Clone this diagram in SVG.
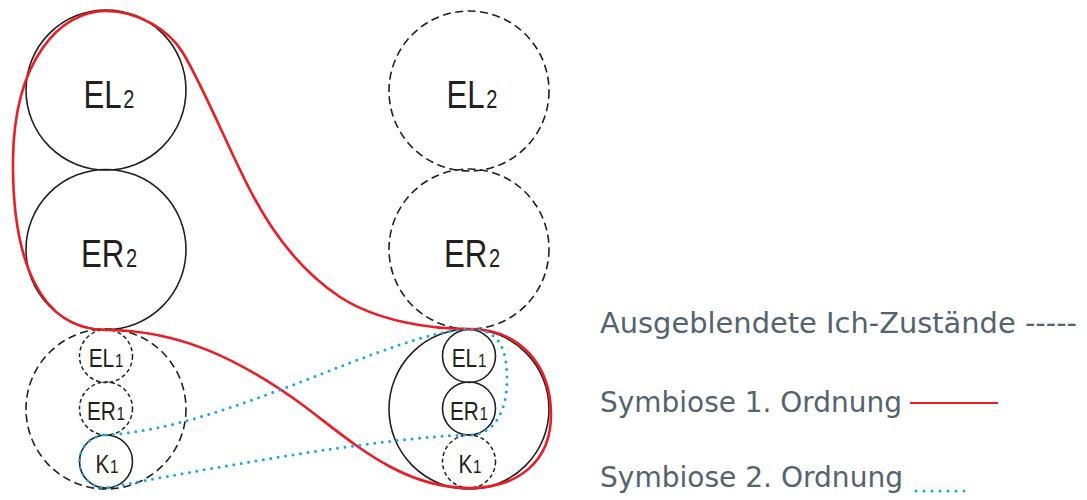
<svg xmlns="http://www.w3.org/2000/svg" width="1087" height="500" viewBox="0 0 1087 500">
<style>
.solid{fill:none;stroke:#231f20;stroke-width:1.6}
.dbig{fill:none;stroke:#231f20;stroke-width:1.6;stroke-dasharray:8 4.5}
.dsmall{fill:none;stroke:#231f20;stroke-width:1.5;stroke-dasharray:4 2.8}
.lbl{font-family:"Liberation Sans",Arial,sans-serif;fill:#231f20;text-anchor:middle}
.big{font-size:39px}
.bigsub{font-size:25px}
.sm{font-size:26px}
.smsub{font-size:19px}
.red{fill:none;stroke:#ec1c24;stroke-width:2.6;stroke-linejoin:round}
.blue{fill:none;stroke:#1ba6e3;stroke-width:3;stroke-linecap:round;stroke-dasharray:0 7.5}
.leg{font-family:"DejaVu Sans",sans-serif;font-size:28px;fill:#54636d}
</style>
<rect width="1087" height="500" fill="#ffffff"/>
<g id="left-EL2"><circle class="solid" cx="106" cy="90" r="80"/><text class="lbl big" transform="translate(109 108) scale(0.8 1)">EL<tspan class="bigsub" dx="2">2</tspan></text></g>
<g id="left-ER2"><circle class="solid" cx="106" cy="249.5" r="80"/><text class="lbl big" transform="translate(109 267) scale(0.8 1)">ER<tspan class="bigsub" dx="2">2</tspan></text></g>
<g id="left-I1"><circle class="dbig" cx="106" cy="409" r="80"/></g>
<g id="left-EL1"><circle class="dsmall" cx="106" cy="356" r="26.5"/><text class="lbl sm" transform="translate(106 367) scale(0.8 1)">EL<tspan class="smsub" dx="1">1</tspan></text></g>
<g id="left-ER1"><circle class="dsmall" cx="106" cy="408.5" r="26.5"/><text class="lbl sm" transform="translate(106 420) scale(0.8 1)">ER<tspan class="smsub" dx="1">1</tspan></text></g>
<g id="left-K1"><circle class="solid" cx="106" cy="461.5" r="26.5"/><text class="lbl sm" transform="translate(107 473) scale(0.8 1)">K<tspan class="smsub" dx="1">1</tspan></text></g>
<g id="right-EL2"><circle class="dbig" cx="469" cy="91" r="80"/><text class="lbl big" transform="translate(472 108) scale(0.8 1)">EL<tspan class="bigsub" dx="2">2</tspan></text></g>
<g id="right-ER2"><circle class="dbig" cx="469" cy="249" r="80"/><text class="lbl big" transform="translate(472 267) scale(0.8 1)">ER<tspan class="bigsub" dx="2">2</tspan></text></g>
<g id="right-I1"><circle class="solid" cx="469" cy="409" r="80"/></g>
<g id="right-EL1"><circle class="solid" cx="469" cy="356" r="26.5"/><text class="lbl sm" transform="translate(469 367) scale(0.8 1)">EL<tspan class="smsub" dx="1">1</tspan></text></g>
<g id="right-ER1"><circle class="solid" cx="469" cy="408.5" r="26.5"/><text class="lbl sm" transform="translate(469 420) scale(0.8 1)">ER<tspan class="smsub" dx="1">1</tspan></text></g>
<g id="right-K1"><circle class="dsmall" cx="469" cy="461.5" r="26.5"/><text class="lbl sm" transform="translate(470 473) scale(0.8 1)">K<tspan class="smsub" dx="1">1</tspan></text></g>
<g id="connectors">
<path class="red" d="M106 330 C180 330 240 360 300 403 C350 440 400 488 469 488 C520 488 551 460 551 415 C551 365 520 329 469 329 C429 329 377 321 340 297 C296 268 268 225 250 190 C229 150 203.6 87 183 53 C170 31.6 140 11 106 11 C60 11 14 60 13 160 C12 260 40 330 106 330 Z"/>
<path class="blue" d="M106 435 C230 428 390 332 470 329 C500 329 507 350 507 380 C507 410 495 435 469 435 C380 437 200 470 106 488 A26.5 26.5 0 0 1 106 435 Z"/>
</g>
<g id="legend">
<text class="leg" x="600" y="333" textLength="477" lengthAdjust="spacingAndGlyphs">Ausgeblendete Ich-Zustände -----</text>
<text class="leg" x="600" y="412" textLength="302" lengthAdjust="spacingAndGlyphs">Symbiose 1. Ordnung</text>
<line x1="910" y1="403" x2="998" y2="403" stroke="#ec1c24" stroke-width="2"/>
<text class="leg" x="600" y="487" textLength="303" lengthAdjust="spacingAndGlyphs">Symbiose 2. Ordnung</text>
<line x1="916" y1="491" x2="972" y2="491" stroke="#1ba6e3" stroke-width="3" stroke-linecap="round" stroke-dasharray="0 8"/>
</g>
</svg>
